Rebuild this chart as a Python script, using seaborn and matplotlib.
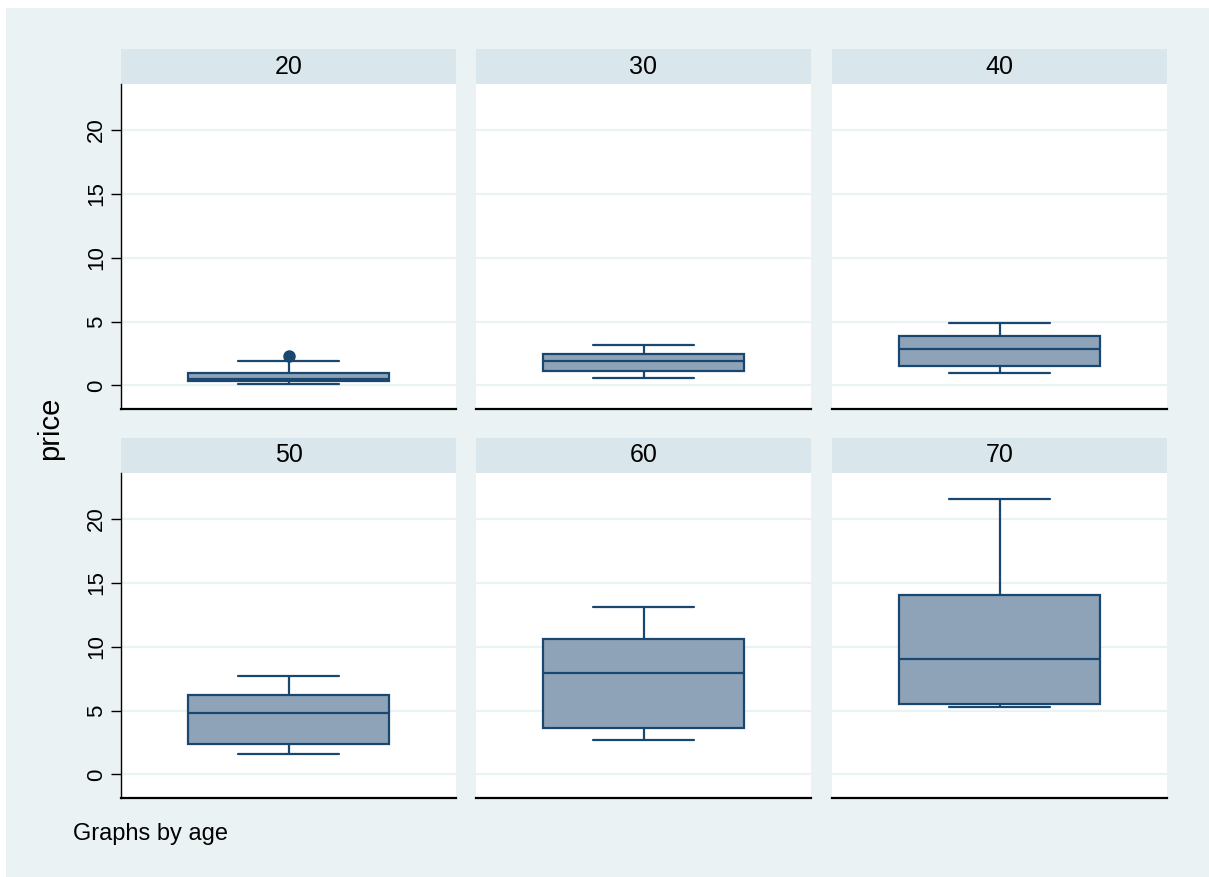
import matplotlib
matplotlib.use("Agg")
import matplotlib.pyplot as plt
from matplotlib.patches import Rectangle
import seaborn as sns
import pandas as pd

# ---- data ----
ages = [20, 30, 40, 50, 60, 70]
price_20 = [0.13, 0.25, 0.34, 0.45, 0.52, 0.80, 1.00, 1.88, 2.30]
price_30 = [0.55, 1.12, 1.90, 2.43, 3.20]
price_40 = [1.00, 1.51, 2.88, 3.87, 4.86]
price_50 = [1.56, 2.34, 4.84, 6.25, 7.73]
price_60 = [2.66, 3.67, 7.97, 10.60, 13.10]
price_70 = [5.31, 5.55, 9.06, 14.06, 21.60]
y_ticks = [0, 5, 10, 15, 20]

series = [price_20, price_30, price_40, price_50, price_60, price_70]
rows = []
for a, vals in zip(ages, series):
    for v in vals:
        rows.append({"age": a, "price": v})
df = pd.DataFrame(rows)

# ---- style ----
sns.set_theme(style="white")
plt.rcParams["font.family"] = ["Liberation Sans", "DejaVu Sans"]

W, H = 1209, 877
BG = "#EAF2F3"
STRIP = "#D9E6EB"
NAVY = "#1A476F"
FILL = "#8FA3B8"

fig = plt.figure(figsize=(W / 100, H / 100), dpi=100, facecolor="white")
fig.add_artist(Rectangle((6 / W, 0), 1 - 6 / W, 1 - 8 / H, transform=fig.transFigure,
                         facecolor=BG, edgecolor="none", zorder=-10))

col_x = [(121, 456), (476, 811), (832, 1167)]
row_y = [(84, 409, 49), (473, 798, 438)]

def frect(x0, x1, y0, y1):
    return [x0 / W, 1 - y1 / H, (x1 - x0) / W, (y1 - y0) / H]

for i, a in enumerate(ages):
    r, c = divmod(i, 3)
    x0, x1 = col_x[c]
    y0, y1, hy = row_y[r]
    # strip header
    fig.add_artist(Rectangle((x0 / W, 1 - y0 / H), (x1 - x0) / W, (y0 - hy) / H,
                             transform=fig.transFigure, facecolor=STRIP,
                             edgecolor="none", zorder=-5))
    fig.text((x0 + x1) / 2 / W, 1 - (hy + y0) / 2 / H, str(a), ha="center",
             va="center", fontsize=18, color="black")

    ax = fig.add_axes(frect(x0, x1, y0, y1))
    ax.set_facecolor("white")
    sub = df[df["age"] == a]
    sns.boxplot(data=sub, y="price", ax=ax, color=FILL, linecolor=NAVY,
                saturation=1, width=0.8, linewidth=1.6,
                flierprops=dict(marker="o", markerfacecolor=NAVY,
                                markeredgecolor=NAVY, markersize=8))
    ax.set_xlim(-0.667, 0.667)
    ax.set_ylim(-1.85, 23.6)
    ax.set_yticks(y_ticks)
    ax.set_xticks([])
    ax.set_xlabel("")
    ax.set_ylabel("")
    ax.yaxis.grid(True, color=BG, linewidth=1.6)
    ax.xaxis.grid(False)
    ax.set_axisbelow(True)
    for s in ["top", "right"]:
        ax.spines[s].set_visible(False)
    ax.spines["bottom"].set_color("black")
    ax.spines["bottom"].set_linewidth(1.6)
    if c == 0:
        ax.spines["left"].set_color("black")
        ax.spines["left"].set_linewidth(1.0)
        ax.tick_params(axis="y", left=True, length=7, width=1.0, color="black",
                       labelsize=16, labelrotation=90, pad=3, labelcolor="black")
        for lab in ax.get_yticklabels():
            lab.set_va("center")
    else:
        ax.spines["left"].set_visible(False)
        ax.tick_params(axis="y", left=False, labelleft=False)

fig.text(50 / W, 1 - 428 / H, "price", rotation=90, ha="center", va="center",
         fontsize=21, color="black")
fig.text(73 / W, 1 - 834 / H, "Graphs by age", ha="left", va="center",
         fontsize=17, color="black")

fig.savefig("out.png", dpi=100, facecolor=fig.get_facecolor())
